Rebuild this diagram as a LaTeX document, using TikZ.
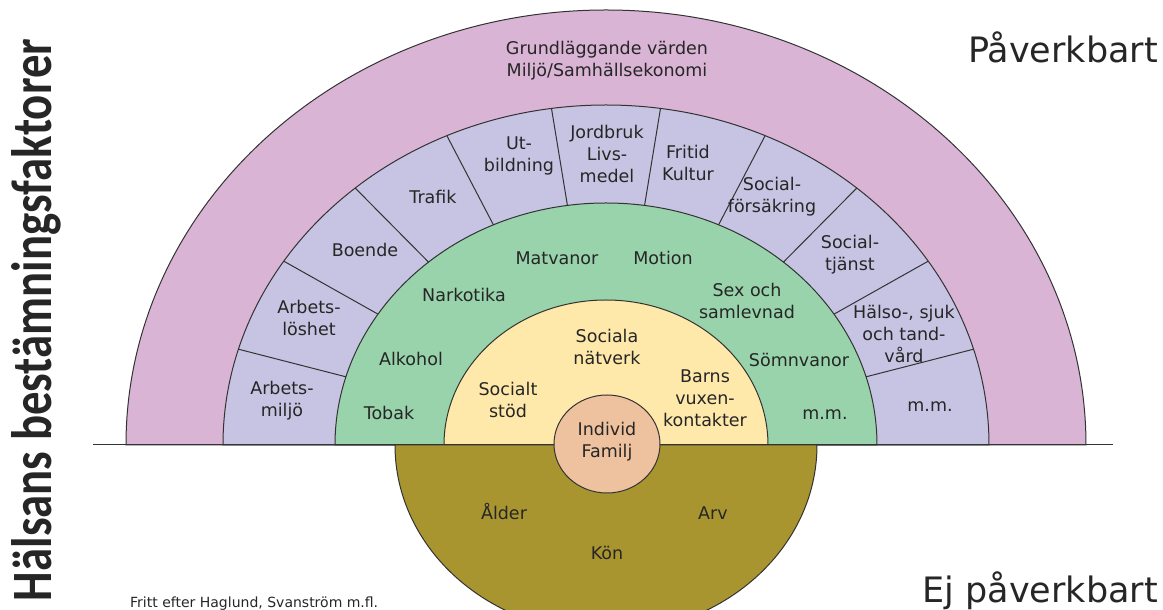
\documentclass[tikz,border=0pt]{standalone}
\usepackage{fontspec}
\setmainfont{DejaVu Sans}
\newfontfamily\titlefont{Carlito}
\usepackage{graphicx}
\usetikzlibrary{shapes.geometric}

\definecolor{purp}{HTML}{D9B4D5}
\definecolor{lav}{HTML}{C6C4E2}
\definecolor{mint}{HTML}{98D3AB}
\definecolor{cream}{HTML}{FFE9AA}
\definecolor{salmon}{HTML}{EEC29E}
\definecolor{earth}{HTML}{A99530}

\begin{document}
\begin{tikzpicture}[x=1pt, y=1pt,
    ring/.style={draw=black!80, line width=1pt},
    lbl/.style={align=center, text=black!85, inner sep=0pt, font=\fontsize{17.5}{22}\selectfont}]
    \useasboundingbox (-606,-165) rectangle (557,445);
    \clip (-606,-165) rectangle (557,445);

    % Half rings, outside in
    \filldraw[ring, fill=purp] (-480,0) arc[start angle=180, end angle=0, x radius=480pt, y radius=435pt] -- cycle;
    \filldraw[ring, fill=lav] (-383,0) arc[start angle=180, end angle=0, x radius=383pt, y radius=340pt] -- cycle;
    \filldraw[ring, fill=mint] (-271,0) arc[start angle=180, end angle=0, x radius=271pt, y radius=242pt] -- cycle;
    \filldraw[ring, fill=cream] (-162,0) arc[start angle=180, end angle=0, x radius=162pt, y radius=145pt] -- cycle;

    % Split the second ring in 11 parts
    \foreach \k in {1,...,10} {
        \pgfmathsetmacro{\ang}{\k*180/11}
        \draw[ring] (\ang:271pt and 242pt) -- (\ang:383pt and 340pt);
    }

    % Lower half and the line
    \filldraw[ring, fill=earth] (-211,0) arc[start angle=180, end angle=360, x radius=211pt, y radius=188pt] -- cycle;
    \coordinate (base-l) at (-513,0);
    \coordinate (base-r) at (507,0);
    \draw[ring] (base-l) -- (base-r);

    % Centre
    \node (indiv) at (1,1) [ellipse, ring, fill=salmon, minimum width=106pt, minimum height=98pt, inner sep=0pt] {};
    \node (indivtxt) at (1,3) [lbl] {Individ\\Familj};

    % Outer ring
    \node (grund) at (1,384) [lbl] {Grundläggande värden\\Miljö/Samhällsekonomi};

    % Second ring
    \node (arbmil) at (-324,44) [lbl] {Arbets-\\miljö};
    \node (arblos) at (-297,127) [lbl] {Arbets-\\löshet};
    \node (boende) at (-241,195) [lbl] {Boende};
    \node (trafik) at (-173,248) [lbl] {Trafik};
    \node (utb) at (-87,289) [lbl] {Ut-\\bildning};
    \node (jord) at (1,291) [lbl] {Jordbruk\\Livs-\\medel};
    \node (fritid) at (82,282) [lbl] {Fritid\\Kultur};
    \node (sfors) at (166,248) [lbl] {Social-\\försäkring};
    \node (stj) at (244,190) [lbl] {Social-\\tjänst};
    \node (halso) at (298,111) [lbl] {Hälso-, sjuk\\och tand-\\vård};
    \node (mm-a) at (324,38) [lbl] {m.m.};

    % Third ring
    \node (matv) at (-49,187) [lbl] {Matvanor};
    \node (motion) at (57,187) [lbl] {Motion};
    \node (nark) at (-142,150) [lbl] {Narkotika};
    \node (sex) at (141,144) [lbl] {Sex och\\samlevnad};
    \node (alk) at (-195,86) [lbl] {Alkohol};
    \node (somn) at (193,85) [lbl] {Sömnvanor};
    \node (tobak) at (-217,32) [lbl] {Tobak};
    \node (mm-b) at (219,30) [lbl] {m.m.};

    % Inner ring
    \node (natv) at (1,98) [lbl] {Sociala\\nätverk};
    \node (stod) at (-98,45) [lbl] {Socialt\\stöd};
    \node (barns) at (99,47) [lbl] {Barns\\vuxen-\\kontakter};

    % Below the line
    \node (alder) at (-102,-67) [lbl] {Ålder};
    \node (arv) at (107,-68) [lbl] {Arv};
    \node (kon) at (1,-108) [lbl] {Kön};

    % Side texts
    \node (title) at (-554,125) [rotate=90, anchor=base, inner sep=0pt, text=black!85]
        {\scalebox{0.82}[1]{\titlefont\bfseries\fontsize{57}{57}\selectfont Hälsans bestämningsfaktorer}};
    \node (pav) at (552,382) [anchor=base east, inner sep=0pt, text=black!85, font=\fontsize{35}{35}\selectfont] {Påverkbart};
    \node (ejpav) at (552,-158) [anchor=base east, inner sep=0pt, text=black!85, font=\fontsize{35}{35}\selectfont] {Ej påverkbart};
    \node (fritt) at (-476,-163) [anchor=base west, inner sep=0pt, text=black!85, font=\fontsize{14}{14}\selectfont] {Fritt efter Haglund, Svanström m.fl.};
\end{tikzpicture}
\end{document}
